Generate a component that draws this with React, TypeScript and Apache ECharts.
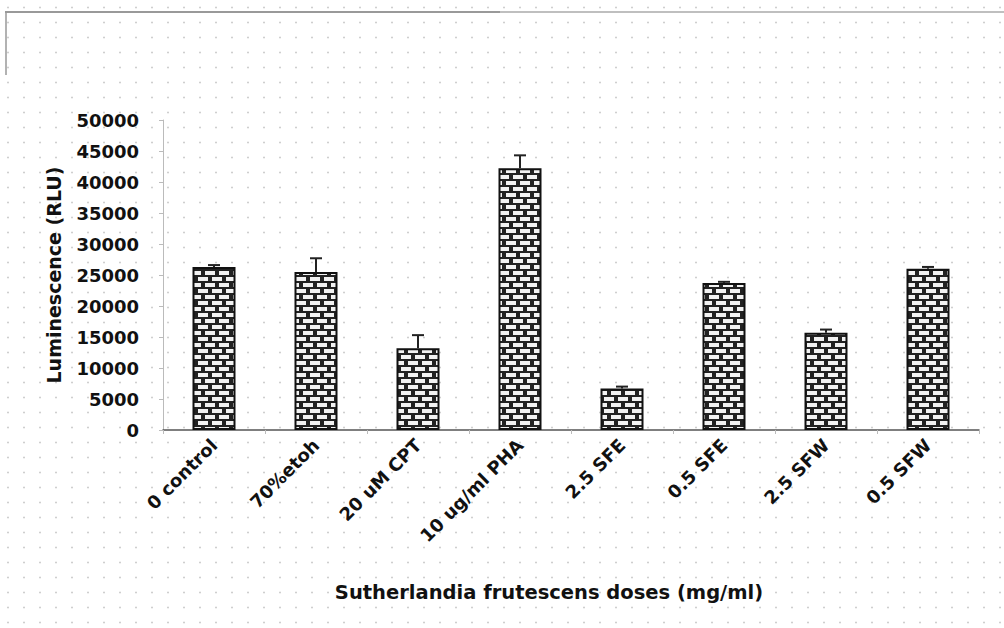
import React, { useEffect, useRef } from "react";
import * as echarts from "echarts";

const categories = ["0 control", "70%etoh", "20 uM CPT", "10 ug/ml PHA", "2.5 SFE", "0.5 SFE", "2.5 SFW", "0.5 SFW"];
const values = [26300, 25500, 13200, 42200, 6700, 23700, 15700, 26000];
const errors = [300, 2200, 2100, 2100, 300, 200, 500, 300];
const yTicks = [0, 50000, 5000];

function makeBrick(): HTMLCanvasElement {
  const c = document.createElement("canvas");
  c.width = 14;
  c.height = 12;
  const ctx = c.getContext("2d")!;
  ctx.fillStyle = "#222";
  ctx.fillRect(0, 0, 14, 12);
  ctx.fillStyle = "#f2f2f2";
  ctx.fillRect(2, 1, 10, 4);
  ctx.fillRect(-5, 7, 10, 4);
  ctx.fillRect(9, 7, 10, 4);
  return c;
}

export default function App() {
  const ref = useRef<HTMLDivElement>(null);
  useEffect(() => {
    document.body.style.margin = "0";
    const chart = echarts.init(ref.current!, null, { renderer: "svg" });
    const brick = makeBrick();
    const font = "DejaVu Sans";
    chart.setOption({
      animation: false,
      grid: { left: 163, right: 25, top: 120, bottom: 198, containLabel: false },
      xAxis: {
        type: "category",
        data: categories,
        name: "Sutherlandia frutescens doses (mg/ml)",
        nameLocation: "middle",
        nameGap: 152,
        nameTextStyle: { fontFamily: font, fontWeight: "bold", fontSize: 19.5, color: "#111", padding: [0, 44, 0, 0] },
        axisLine: { lineStyle: { color: "#555", width: 1.5 } },
        axisTick: { show: true, length: 4, lineStyle: { color: "#bbb" } },
        axisLabel: { rotate: 45, margin: 12, fontFamily: font, fontWeight: "bold", fontSize: 18, color: "#111" },
      },
      yAxis: {
        type: "value",
        min: yTicks[0],
        max: yTicks[1],
        interval: yTicks[2],
        name: "Luminescence (RLU)",
        nameLocation: "middle",
        nameGap: 100,
        nameRotate: 90,
        nameTextStyle: { fontFamily: font, fontWeight: "bold", fontSize: 19, color: "#111" },
        axisLine: { show: true, lineStyle: { color: "#bbb", width: 1 } },
        axisTick: { show: true, length: 4, lineStyle: { color: "#bbb" } },
        splitLine: { show: false },
        axisLabel: {
          margin: 24,
          fontFamily: font,
          fontWeight: "bold",
          fontSize: 18,
          color: "#111",
          formatter: (v: number) => String(v),
        },
      },
      series: [
        {
          type: "bar",
          data: values,
          barWidth: 43,
          itemStyle: {
            color: { image: brick, repeat: "repeat", imageWidth: 14, imageHeight: 12 } as any,
            borderColor: "#111",
            borderWidth: 2,
          },
        },
        {
          type: "custom",
          data: values.map((v, i) => [i, v, errors[i]]),
          renderItem: (params: any, api: any) => {
            const x = api.value(0);
            const v = api.value(1);
            const e = api.value(2);
            const p0 = api.coord([x, v]);
            const p1 = api.coord([x, v + e]);
            const st = { stroke: "#222", lineWidth: 2 };
            return {
              type: "group",
              children: [
                { type: "line", shape: { x1: p0[0], y1: p0[1], x2: p1[0], y2: p1[1] }, style: st },
                { type: "line", shape: { x1: p1[0] - 6, y1: p1[1], x2: p1[0] + 6, y2: p1[1] }, style: st },
              ],
            };
          },
          z: 3,
        },
      ],
      graphic: [
        { type: "line", shape: { x1: 5, y1: 12, x2: 500, y2: 12 }, style: { stroke: "#777", lineWidth: 1.5 } },
        { type: "line", shape: { x1: 500, y1: 12, x2: 1004, y2: 12 }, style: { stroke: "#aaa", lineWidth: 1.5 } },
        { type: "line", shape: { x1: 6, y1: 12, x2: 6, y2: 75 }, style: { stroke: "#999", lineWidth: 1.5 } },
      ],
    });
    return () => chart.dispose();
  }, []);
  return (
    <div
      ref={ref}
      style={{
        width: 1004,
        height: 628,
        backgroundColor: "#fff",
        backgroundImage: "radial-gradient(circle, #cfcfcf 0.9px, transparent 1.2px)",
        backgroundSize: "16px 15px",
      }}
    />
  );
}
